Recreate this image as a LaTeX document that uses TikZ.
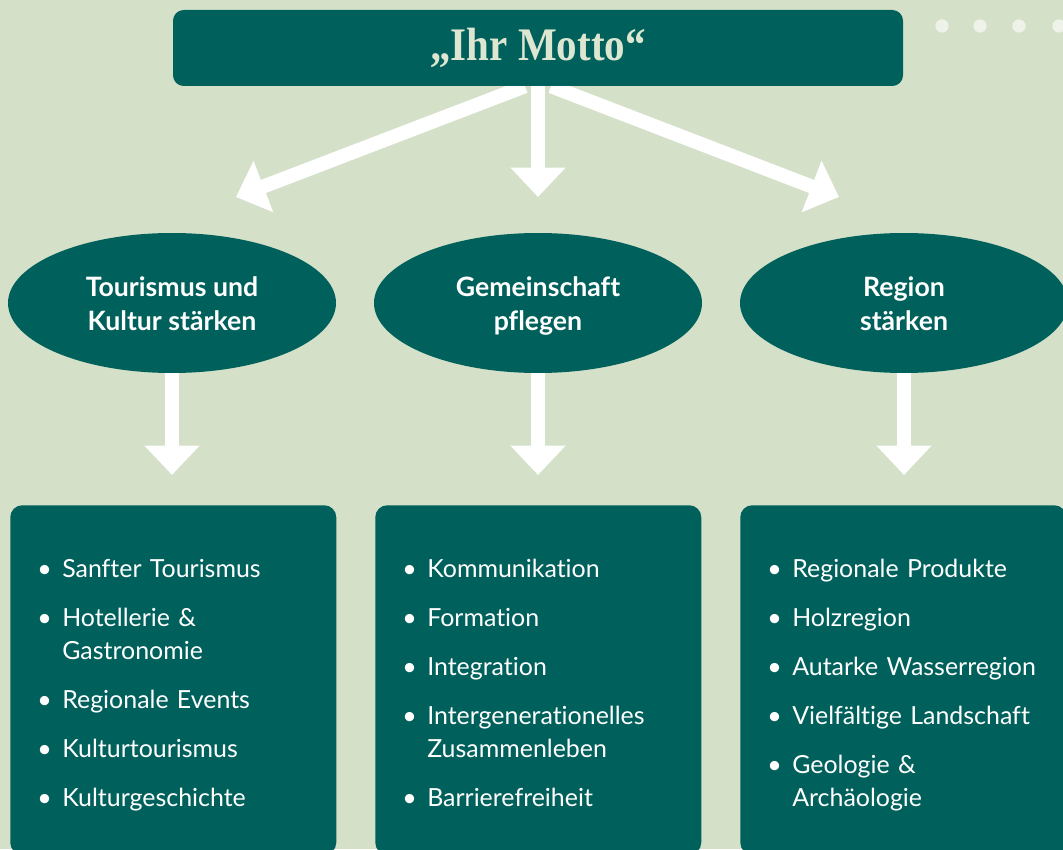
\documentclass[tikz,border=0pt]{standalone}
\usepackage{fontspec}
\usepackage{graphicx}
\setmainfont[Ligatures=NoCommon]{Lato}
\newfontfamily\mottofont{Liberation Serif}
\usetikzlibrary{arrows.meta,shapes.geometric,backgrounds}

\definecolor{Petrol}{HTML}{00615C}
\definecolor{Salbei}{HTML}{D4E0C8}
\definecolor{Creme}{HTML}{DDE6D0}
\definecolor{Punkt}{HTML}{EEF2E9}

\newcommand{\punkt}[1]{\par\hangindent=18.75pt\hangafter=1\noindent\makebox[18.75pt][l]{\textbullet}#1\par\vspace{12pt}}
\newcommand{\oben}{\rule{0pt}{24pt}}

\begin{document}
\begin{tikzpicture}[x=0.75pt,y=-0.75pt,
    ziel/.style={ellipse, fill=Petrol, minimum width=246pt, minimum height=105pt, inner sep=0pt,
        text=white, align=center, font=\bfseries\fontsize{20}{25.5}\selectfont},
    kasten/.style={rectangle, rounded corners=9pt, fill=Petrol, minimum width=244.5pt,
        minimum height=262pt, anchor=north west, inner sep=0pt},
    liste/.style={anchor=north west, text=white, text width=235pt, inner sep=0pt,
        font=\fontsize{18.7}{24.75}\selectfont},
    pfeil/.style={draw=white, line width=10.5pt, -{Triangle[width=40pt,length=22pt]}}
]
    \useasboundingbox (0,0) rectangle (1063,849);

    \node[fill=Petrol, rounded corners=8pt, minimum width=547.5pt, minimum height=57pt] (motto) at (538,48)
        {\raisebox{-3pt}{\scalebox{0.88}[1]{\mottofont\bfseries\fontsize{35}{35}\selectfont\color{Creme}„Ihr Motto“}}};

    \foreach \x in {942,980,1019,1059}
        \fill[Punkt] (\x,26) circle (5pt);

    \node[ziel] (tourismus) at (172,303) {\oben Tourismus und\\Kultur stärken\strut};
    \node[ziel] (gemeinschaft) at (538,303) {\oben Gemeinschaft\\pflegen\strut};
    \node[ziel] (region) at (904,303) {\oben Region\\stärken\strut};

    \coordinate (spitzeL) at (236,197);
    \coordinate (spitzeM) at (538,197);
    \coordinate (spitzeR) at (839,197);
    \coordinate (untenL) at (172,475);
    \coordinate (untenM) at (538,475);
    \coordinate (untenR) at (904,475);

    \begin{scope}[on background layer]
        \fill[Salbei] (0,0) rectangle (1063,849);
        \draw[pfeil] ([xshift=-9.75pt]motto.south) -- (spitzeL);
        \draw[pfeil] (motto.south) -- (spitzeM);
        \draw[pfeil] ([xshift=9.75pt]motto.south) -- (spitzeR);
    \end{scope}

    \draw[pfeil] (tourismus.south) -- (untenL);
    \draw[pfeil] (gemeinschaft.south) -- (untenM);
    \draw[pfeil] (region.south) -- (untenR);

    \node[kasten] (kasten1) at (10,505) {};
    \node[kasten] (kasten2) at (375,505) {};
    \node[kasten] (kasten3) at (740,505) {};

    \node[liste] (liste1) at ([shift={(27,39)}]kasten1.north west)
        {\punkt{Sanfter Tourismus}\punkt{Hotellerie \&\newline Gastronomie}\punkt{Regionale Events}\punkt{Kulturtourismus}\punkt{Kulturgeschichte}};
    \node[liste] (liste2) at ([shift={(27,39)}]kasten2.north west)
        {\punkt{Kommunikation}\punkt{Formation}\punkt{Integration}\punkt{Intergenerationelles\newline Zusammenleben}\punkt{Barrierefreiheit}};
    \node[liste] (liste3) at ([shift={(27,39)}]kasten3.north west)
        {\punkt{Regionale Produkte}\punkt{Holzregion}\punkt{Autarke Wasserregion}\punkt{Vielfältige Landschaft}\punkt{Geologie \&\newline Archäologie}};
\end{tikzpicture}
\end{document}
